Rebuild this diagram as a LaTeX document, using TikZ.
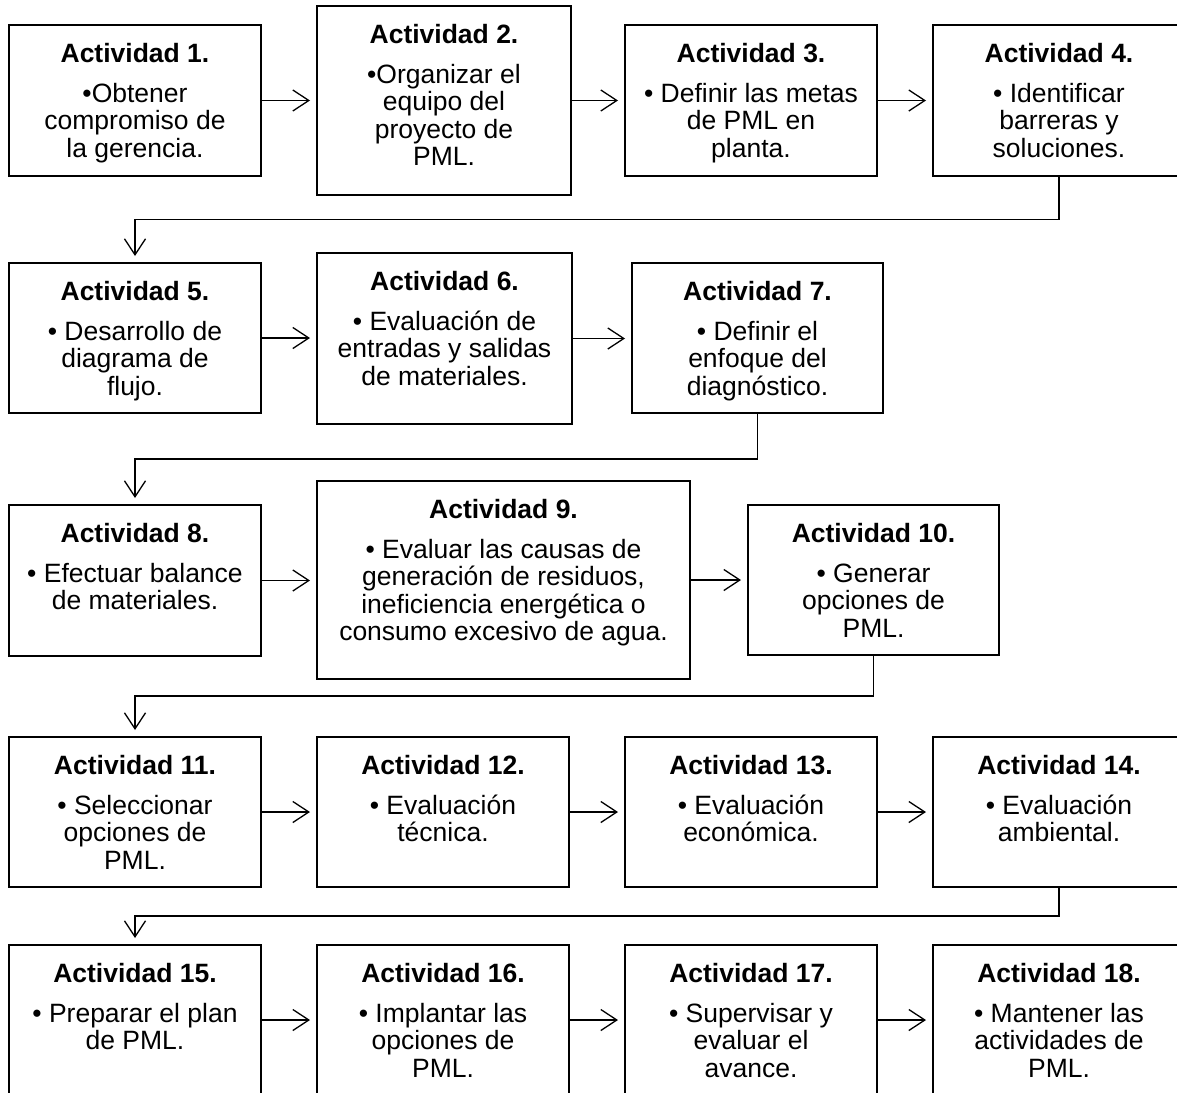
\documentclass[tikz,border=0pt]{standalone}
\usepackage{fontspec}
\setmainfont{Liberation Sans}
\usetikzlibrary{arrows.meta,calc}

% Box body: bold heading, then the centred description lines, set from the top
\newcommand{\actcontent}[4]{%
  \parbox[c][#2pt][t]{#1pt}{\centering\fontsize{26.5}{27.5}\selectfont
    \rule{0pt}{37pt}\textbf{#3}\\[12.5pt]#4}}

\tikzset{
  actbox/.style={draw=black, line width=2.7pt, fill=white, inner sep=0pt,
    outer sep=0pt, rectangle},
  flow/.style={line width=1.3pt,
    -{Straight Barb[length=16pt,width=21pt,line width=1.3pt]},
    shorten >=7pt},
}

\begin{document}
\begin{tikzpicture}[x=1pt, y=-1pt]
\useasboundingbox (0,0) rectangle (1177,1092);
\clip (0,0) rectangle (1177,1092);

% ---- Row 1
\node[actbox] (a1) at (135,100.5) {\actcontent{252}{151}{Actividad 1.}{•Obtener\\compromiso de\\la gerencia.}};
\node[actbox] (a2) at (444,100.5) {\actcontent{254}{189}{Actividad 2.}{•Organizar el\\equipo del\\proyecto de\\PML.}};
\node[actbox] (a3) at (751,100.5) {\actcontent{252}{151}{Actividad 3.}{• Definir las metas\\de PML en\\planta.}};
\node[actbox] (a4) at (1059,100.5) {\actcontent{252}{151}{Actividad 4.}{• Identificar\\barreras y\\soluciones.}};

% ---- Row 2
\node[actbox] (a5) at (135,338) {\actcontent{252}{150}{Actividad 5.}{• Desarrollo de\\diagrama de\\flujo.}};
\node[actbox] (a6) at (444.5,338.5) {\actcontent{255}{171}{Actividad 6.}{• Evaluación de\\entradas y salidas\\de materiales.}};
\node[actbox] (a7) at (757.5,338) {\actcontent{251}{150}{Actividad 7.}{• Definir el\\enfoque del\\diagnóstico.}};

% ---- Row 3
\node[actbox] (a8) at (135,580.5) {\actcontent{252}{151}{Actividad 8.}{• Efectuar balance\\de materiales.}};
\node[actbox] (a9) at (503.5,580) {\actcontent{373}{198}{Actividad 9.}{• Evaluar las causas de\\generación de residuos,\\ineficiencia energética o\\consumo excesivo de agua.}};
\node[actbox] (a10) at (873.5,580) {\actcontent{251}{150}{Actividad 10.}{• Generar\\opciones de\\PML.}};

% ---- Row 4
\node[actbox] (a11) at (135,812) {\actcontent{252}{150}{Actividad 11.}{• Seleccionar\\opciones de\\PML.}};
\node[actbox] (a12) at (443,812) {\actcontent{252}{150}{Actividad 12.}{• Evaluación\\técnica.}};
\node[actbox] (a13) at (751,812) {\actcontent{252}{150}{Actividad 13.}{• Evaluación\\económica.}};
\node[actbox] (a14) at (1059,812) {\actcontent{252}{150}{Actividad 14.}{• Evaluación\\ambiental.}};

% ---- Row 5
\node[actbox] (a15) at (135,1020) {\actcontent{252}{150}{Actividad 15.}{• Preparar el plan\\de PML.}};
\node[actbox] (a16) at (443,1020) {\actcontent{252}{150}{Actividad 16.}{• Implantar las\\opciones de\\PML.}};
\node[actbox] (a17) at (751,1020) {\actcontent{252}{150}{Actividad 17.}{• Supervisar y\\evaluar el\\avance.}};
\node[actbox] (a18) at (1059,1020) {\actcontent{252}{150}{Actividad 18.}{• Mantener las\\actividades de\\PML.}};

% ---- Connectors along each row
\foreach \s/\t in {a1/a2, a2/a3, a3/a4, a5/a6, a6/a7, a8/a9, a9/a10,
                   a11/a12, a12/a13, a13/a14, a15/a16, a16/a17, a17/a18}
  \draw[flow] (\s.east) -- (\s.east -| \t.west);

% ---- Connectors from the end of a row to the start of the next one
\foreach \s/\t in {a4/a5, a7/a8, a10/a11, a14/a15}
  \draw[flow] (\s.south) |- ($(\s.south)!0.5!(\t.north)$) -| (\t.north);
\end{tikzpicture}
\end{document}
